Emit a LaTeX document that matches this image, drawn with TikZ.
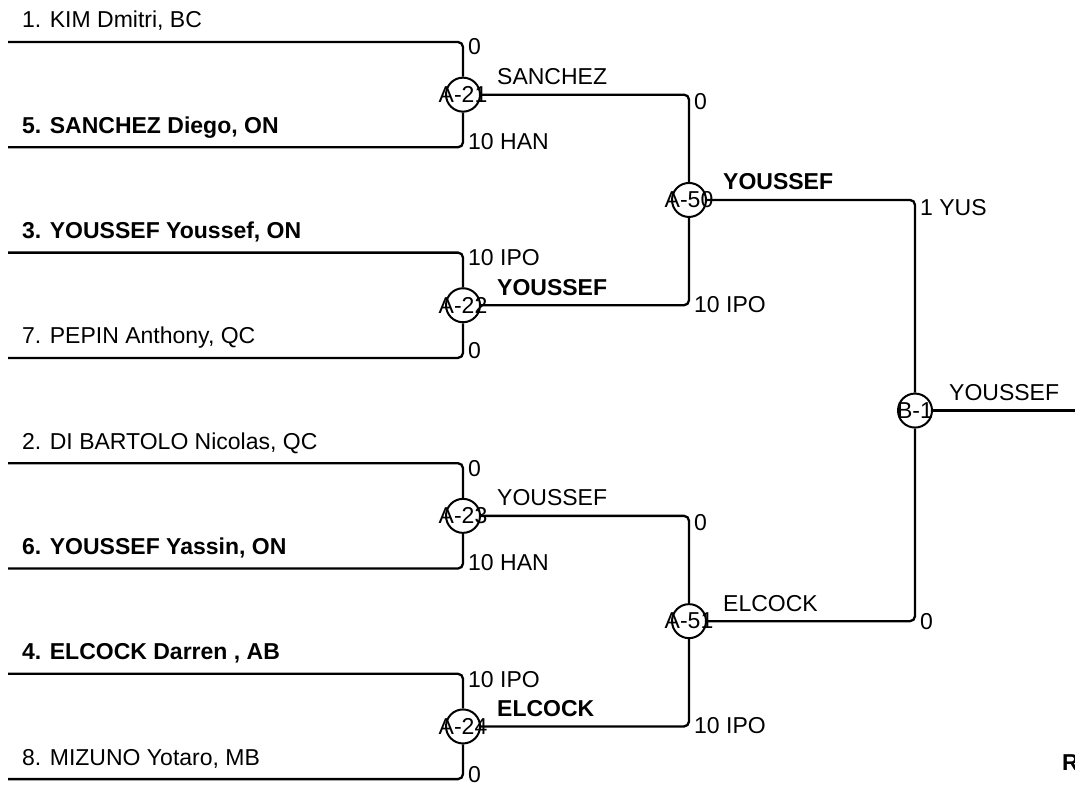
\documentclass[tikz,border=0pt]{standalone}
\usepackage{fontspec}
\setmainfont{Liberation Sans}
\begin{document}
\begin{tikzpicture}[x=1pt,y=-1pt,
  ln/.style={line width=2.3pt,rounded corners=5pt},
  mc/.style={circle,draw,fill=white,line width=2pt,minimum size=34pt,inner sep=0pt},
  txt/.style={font=\fontsize{23}{27}\selectfont,inner sep=0pt},
  nm/.style={txt,anchor=base west},
  sc/.style={txt,anchor=west},
  ct/.style={txt,anchor=center}]
\useasboundingbox (0,0) rectangle (1075,784);
\clip (0,0) rectangle (1075,784);
% player line start points
\coordinate (s1) at (8,42);
\coordinate (s5) at (8,147.3);
\coordinate (s3) at (8,252.6);
\coordinate (s7) at (8,357.9);
\coordinate (s2) at (8,463.2);
\coordinate (s6) at (8,568.5);
\coordinate (s4) at (8,673.8);
\coordinate (s8) at (8,779.1);
\coordinate (fin) at (1080,410.55);
% match circles
\node[mc] (a21) at (463,94.65) {};
\node[mc] (a22) at (463,305.25) {};
\node[mc] (a23) at (463,515.85) {};
\node[mc] (a24) at (463,726.45) {};
\node[mc] (a50) at (689,199.95) {};
\node[mc] (a51) at (689,621.15) {};
\node[mc] (b1) at (915,410.55) {};
% connectors
\draw[ln] (s1) -| (a21.north);
\draw[ln] (s5) -| (a21.south);
\draw[ln] (s3) -| (a22.north);
\draw[ln] (s7) -| (a22.south);
\draw[ln] (s2) -| (a23.north);
\draw[ln] (s6) -| (a23.south);
\draw[ln] (s4) -| (a24.north);
\draw[ln] (s8) -| (a24.south);
\draw[ln] (a21.east) -| (a50.north);
\draw[ln] (a22.east) -| (a50.south);
\draw[ln] (a23.east) -| (a51.north);
\draw[ln] (a24.east) -| (a51.south);
\draw[ln] (a50.east) -| (b1.north);
\draw[ln] (a51.east) -| (b1.south);
\draw[ln] (b1.east) -- (fin);
% player names
\node[nm] (n1) at (22,28) {1. KIM Dmitri, BC};
\node[nm] (n5) at (22,133.3) {\bfseries 5. SANCHEZ Diego, ON};
\node[nm] (n3) at (22,238.6) {\bfseries 3. YOUSSEF Youssef, ON};
\node[nm] (n7) at (22,343.9) {7. PEPIN Anthony, QC};
\node[nm] (n2) at (22,449.2) {2. DI BARTOLO Nicolas, QC};
\node[nm] (n6) at (22,554.5) {\bfseries 6. YOUSSEF Yassin, ON};
\node[nm] (n4) at (22,659.8) {\bfseries 4. ELCOCK Darren , AB};
\node[nm] (n8) at (22,765.1) {8. MIZUNO Yotaro, MB};
% scores
\node[sc] (t21) at (468,47) {0};
\node[sc] (b21) at (468,142) {10 HAN};
\node[sc] (t22) at (468,258) {10 IPO};
\node[sc] (b22) at (468,351) {0};
\node[sc] (t23) at (468,468.5) {0};
\node[sc] (b23) at (468,563) {10 HAN};
\node[sc] (t24) at (468,680) {10 IPO};
\node[sc] (b24) at (468,775) {0};
\node[sc] (t50) at (694,102) {0};
\node[sc] (b50) at (694,305) {10 IPO};
\node[sc] (t51) at (694,523) {0};
\node[sc] (b51) at (694,726) {10 IPO};
\node[sc] (tb1) at (920,208) {1 YUS};
\node[sc] (bb1) at (920,622) {0};
% winners
\node[nm] (w21) at (497,84.65) {SANCHEZ};
\node[nm] (w22) at (497,295.25) {\bfseries YOUSSEF};
\node[nm] (w23) at (497,505.85) {YOUSSEF};
\node[nm] (w24) at (497,716.45) {\bfseries ELCOCK};
\node[nm] (w50) at (723,189.95) {\bfseries YOUSSEF};
\node[nm] (w51) at (723,611.15) {ELCOCK};
\node[nm] (wb1) at (949,400.55) {YOUSSEF};
% circle labels
\node[ct] (l21) at (a21) {A-21};
\node[ct] (l22) at (a22) {A-22};
\node[ct] (l23) at (a23) {A-23};
\node[ct] (l24) at (a24) {A-24};
\node[ct] (l50) at (a50) {A-50};
\node[ct] (l51) at (a51) {A-51};
\node[ct] (lb1) at (b1) {B-1};
\node[nm] (rr) at (1062,770) {\bfseries R};
\end{tikzpicture}
\end{document}
